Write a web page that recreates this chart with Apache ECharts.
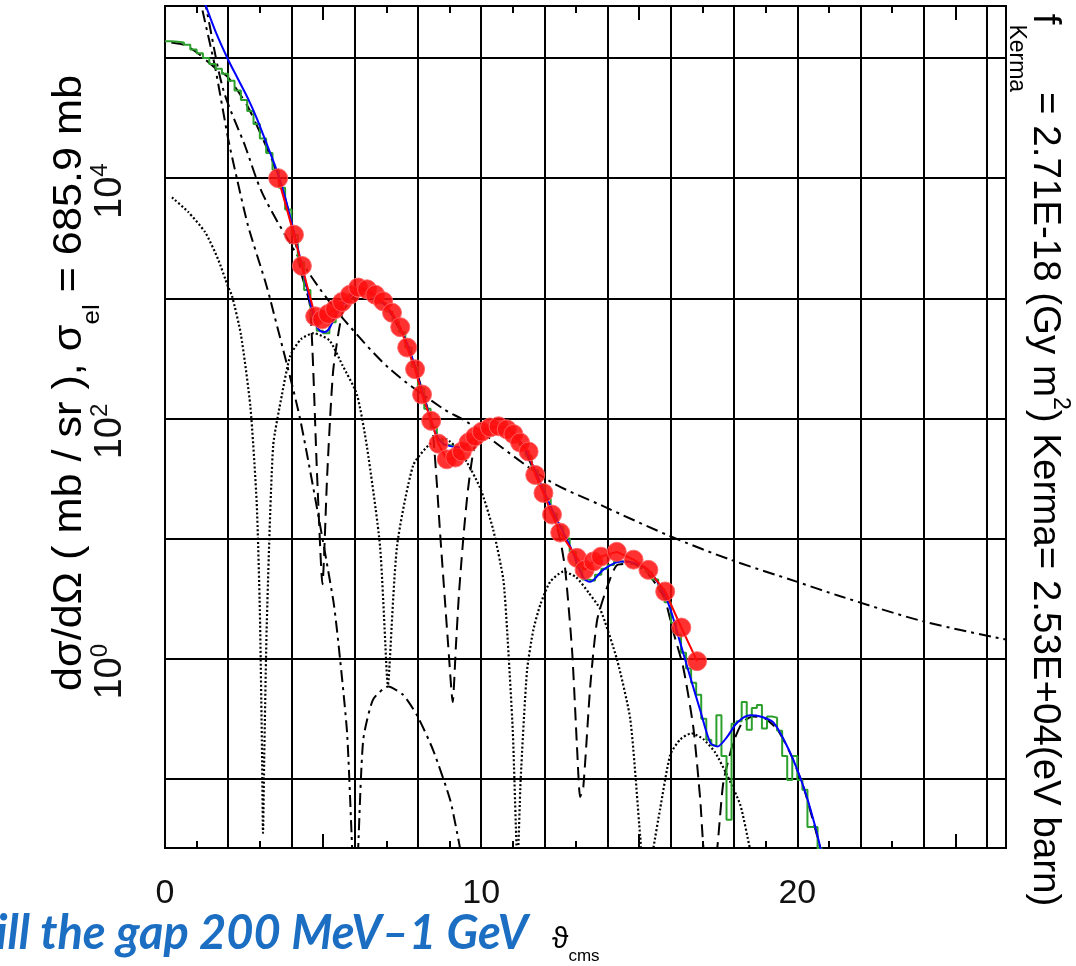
<!DOCTYPE html>
<html><head><meta charset="utf-8">
<script src="https://cdn.jsdelivr.net/npm/echarts@6/dist/echarts.min.js"></script>
<style>html,body{margin:0;padding:0;background:#fff;overflow:hidden}#c{width:1076px;height:966px}</style>
</head><body><div id="c"></div>
<script>
// ---- axes ----
const xMin = 0, xMax = 26.6;
const yMinExp = -1.575, yMaxExp = 5.433;   // log10 limits of the y axis
const xLabelValues = [0, 10, 20];
const yLabelExps = [0, 2, 4];

// ---- data (x = theta_cms in degrees, values given as log10 of dσ/dΩ) ----
const redX = [3.58,4.08,4.33,4.75,4.97,5.16,5.38,5.6,5.85,6.11,6.39,6.65,6.9,7.18,7.44,7.66,7.91,8.13,8.42,8.65,8.91,9.18,9.39,9.6,9.81,10.02,10.28,10.55,10.81,11.02,11.23,11.5,11.71,11.97,12.24,12.5,13.03,13.27,13.55,13.79,14.29,14.82,15.29,15.82,16.33,16.83];
const redLog = [4.00,3.53,3.27,2.85,2.825,2.87,2.91,2.97,3.03,3.09,3.075,3.03,2.975,2.88,2.76,2.59,2.41,2.2,1.98,1.79,1.66,1.675,1.725,1.8,1.85,1.89,1.925,1.935,1.91,1.87,1.8,1.725,1.53,1.38,1.2,1.05,0.84,0.74,0.81,0.85,0.89,0.825,0.74,0.56,0.26,-0.02];

const blueX = [1.2,1.27,1.6,1.99,2.3,2.63,2.9,3.16,3.4,3.58,3.8,4.08,4.33,4.55,4.75,4.9,5.05,5.2,5.4,5.7,6.0,6.3,6.6,6.9,7.2,7.5,7.8,8.1,8.4,8.6,8.8,9.02,9.34,9.65,10.07,10.5,10.92,11.33,11.65,11.96,12.28,12.6,12.91,13.23,13.45,13.86,14.4,14.81,15.35,15.89,16.3,16.61,16.93,17.25,17.47,17.78,18.1,18.51,18.83,19.24,19.68,20.0,20.3,20.57,20.73,20.85];
const blueLog = [5.5,5.45,5.22,4.99,4.83,4.66,4.5,4.325,4.16,4.03,3.84,3.55,3.27,3.02,2.8,2.73,2.72,2.75,2.86,2.97,3.05,3.07,3.03,2.96,2.86,2.72,2.52,2.25,2.0,1.85,1.79,1.77,1.76,1.81,1.91,1.93,1.91,1.77,1.6,1.41,1.22,1.05,0.88,0.675,0.64,0.74,0.81,0.8,0.72,0.48,0.13,-0.15,-0.43,-0.7,-0.73,-0.65,-0.53,-0.47,-0.48,-0.53,-0.73,-0.925,-1.15,-1.4,-1.575,-1.7];

// green histogram, part 1: bins of 0.2 from 0 to 16
const greenStart = 0, greenBin = 0.2;
const greenLog = [
5.14,5.135,5.13,5.11,5.07, 5.04,5.0,4.95,4.91,4.87,
4.81,4.73,4.65,4.56,4.45, 4.33,4.21,4.07,3.92,3.74,
3.53,3.3,3.07,2.85,2.73, 2.71,2.8,2.9,2.97,3.03,
3.06,3.07,3.05,3.01,2.96, 2.89,2.81,2.72,2.59,2.43,
2.25,2.08,1.93,1.82,1.78, 1.765,1.76,1.78,1.82,1.87,
1.91,1.925,1.93,1.925,1.91, 1.86,1.78,1.69,1.57,1.45,
1.33,1.21,1.1,1.0,0.89, 0.76,0.66,0.65,0.7,0.75,
0.78,0.81,0.81,0.8,0.79, 0.76,0.72,0.66,0.58,0.47];
// green histogram, part 2 (noisy tail): bins of 0.16 from 16 to 20.8
const tailStart = 16, tailBin = 0.16;
const tailLog = [
0.3,0.2,0.05,-0.08,-0.2, -0.3,-0.5,-0.675,-0.72,-0.47,
-0.81,-1.34,-0.54,-0.52,-0.36, -0.59,-0.41,-0.385,-0.58,-0.48,
-0.49,-0.6,-0.81,-1.01,-0.81, -1.01,-1.09,-1.4,-1.4,-1.58];

// dash-dot: Coulomb-like monotonic component
const d1X = [1.22,1.3,1.84,2.53,3.07,4.02,4.84,5.7,7.12,8.8,9.56,12.09,13.86,15.98,17.88,20.0,21.36,24.0,26.6];
const d1Log = [5.5,5.42,4.74,4.27,3.88,3.43,3.1,2.81,2.41,2.08,1.97,1.49,1.27,1.02,0.825,0.64,0.52,0.31,0.16];
// dash-dot: second component
const d2X = [1.05,1.15,1.58,2.0,2.28,2.63,3.16,3.32,4.27,5.32,5.54,5.76,5.92,5.99,6.04,6.11,6.27,6.58,7.06,7.53,7.97,8.48,9.02,9.24,9.42];
const d2Log = [5.6,5.44,4.93,4.325,3.99,3.6,3.15,3.0,2.0,0.49,-0.01,-0.62,-1.58,-2.0,-2.0,-1.575,-0.675,-0.34,-0.23,-0.3,-0.47,-0.76,-1.175,-1.45,-1.7];
// dotted component
const d3X = [0.22,0.73,1.27,1.68,1.99,2.12,2.4,2.7,2.9,3.0,3.07,3.1,3.14,3.22,3.42,3.7,3.96,4.3,4.7,5.2,5.6,6.07,6.39,6.8,7.02,7.05,7.08,7.34,7.85,8.39,8.86,9.4,9.97,10.38,10.7,10.82,11.0,11.15,11.25,11.45,11.65,11.87,12.18,12.6,13.0,13.4,13.77,14.3,14.72,15.03,15.15,15.35,15.44,15.66,15.98,16.3,16.65,17.03,17.4,17.8,18.2,18.5,18.6];
const d3Log = [3.84,3.72,3.55,3.325,3.1,3.02,2.7,2.1,1.3,0.4,-0.8,-1.45,-0.8,0.3,1.77,2.2,2.52,2.66,2.71,2.65,2.45,2.2,1.76,0.94,-0.15,-0.22,-0.15,0.94,1.61,1.79,1.83,1.7,1.42,1.075,0.66,0.24,-0.6,-1.7,-1.0,-0.1,0.24,0.45,0.64,0.725,0.68,0.55,0.41,-0.01,-0.51,-1.48,-1.8,-1.8,-1.59,-1.25,-0.8,-0.67,-0.62,-0.67,-0.78,-0.98,-1.22,-1.58,-1.7];
// dashed component
const d4X = [0.2,0.6,1.04,1.58,1.99,2.63,3.39,3.58,3.8,4.08,4.3,4.59,4.81,4.98,5.13,5.32,5.6,5.85,6.1,6.4,6.7,7.0,7.3,7.6,7.9,8.15,8.35,8.48,8.6,8.7,8.85,8.96,9.1,9.2,9.3,9.45,9.58,9.75,9.95,10.3,10.6,10.9,11.3,11.65,11.96,12.28,12.5,12.66,12.88,13.04,13.13,13.23,13.45,13.67,13.99,14.3,14.8,15.3,15.8,16.08,16.39,16.71,16.93,17.03,17.25,17.47,17.66,17.97,18.26,18.6,19.0,19.4,19.8,20.2,20.5,20.8];
const d4Log = [5.13,5.11,5.04,4.92,4.84,4.59,4.15,4.0,3.83,3.54,3.22,2.93,1.53,0.62,1.53,2.4,2.87,2.98,3.04,3.05,3.0,2.93,2.8,2.64,2.44,2.22,2.04,1.86,1.45,1.05,0.5,0.1,-0.36,0.1,0.55,1.05,1.4,1.72,1.87,1.92,1.93,1.9,1.77,1.58,1.39,1.2,0.99,0.74,0.05,-0.78,-1.15,-1.07,-0.23,0.325,0.6,0.78,0.79,0.7,0.5,0.22,-0.07,-0.57,-1.175,-1.57,-2.0,-1.57,-1.03,-0.7,-0.53,-0.48,-0.5,-0.6,-0.8,-1.07,-1.35,-1.65];

// ---- texts ----
const leftTitle = '{t|dσ/dΩ ( mb / sr ), σ}{sub|el}{t| = 685.9 mb}';
const rightTitle = '{t|f}{sub|Kerma}{t|= 2.71E-18 (Gy m}{sup|2}{t|) Kerma= 2.53E+04(eV barn)}';
const xTitle = '{t|ϑ}{sub|cms}';
const banner = 'ill the gap 200 MeV–1 GeV';

// ---- build ----
const FONT = '"Liberation Sans",Arimo,sans-serif';
const pts = (xs, ls) => xs.map((x, i) => [x, Math.pow(10, ls[i])]);
const histPts = (start, bin, vals, out) => {
  vals.forEach((v, i) => {
    const x0 = start + i * bin;
    out.push([x0, Math.pow(10, v)], [x0 + bin, Math.pow(10, v)]);
  });
  return out;
};
const greenPts = histPts(tailStart, tailBin, tailLog, histPts(greenStart, greenBin, greenLog, []));

const chart = echarts.init(document.getElementById('c'), null, {renderer: 'canvas'});
const gridPos = {left: 165, top: 6, width: 841, height: 842};
function xAx(extra) {
  return Object.assign({
    type: 'value', min: xMin, max: xMax, gridIndex: 0,
    axisLine: {show: false}, axisTick: {show: false}, axisLabel: {show: false},
    splitLine: {show: false}
  }, extra);
}
const blackLine = (type, w) => ({color: '#000', width: w || 2, type: type, cap: 'butt'});
const C = '#111';
const richLeft = {
  t: {fontFamily: FONT, fontSize: 40, color: C, lineHeight: 40, verticalAlign: 'middle'},
  sub: {fontFamily: FONT, fontSize: 24, color: C, lineHeight: 24, padding: [44, 0, 0, 0], verticalAlign: 'middle'}
};
const richRight = {
  t: {fontFamily: FONT, fontSize: 38.5, color: C, lineHeight: 81, verticalAlign: 'middle'},
  sub: {fontFamily: FONT, fontSize: 23, color: C, lineHeight: 22, verticalAlign: 'bottom'},
  sup: {fontFamily: FONT, fontSize: 23, color: C, lineHeight: 22, padding: [0, 0, 30, 0], verticalAlign: 'middle'}
};
const richX = {
  t: {fontFamily: FONT, fontSize: 30, color: C, lineHeight: 50, verticalAlign: 'middle'},
  sub: {fontFamily: FONT, fontSize: 17, color: C, lineHeight: 18, verticalAlign: 'bottom'}
};

const option = {
  animation: false,
  backgroundColor: '#fff',
  grid: Object.assign({show: true, borderColor: '#000', borderWidth: 2, backgroundColor: '#fff', containLabel: false}, gridPos),
  xAxis: [
    xAx({interval: 2, position: 'bottom',
      splitLine: {show: true, lineStyle: {color: '#000', width: 2}},
      axisLabel: {show: true, margin: 29, fontFamily: FONT, fontSize: 34, color: C,
        formatter: v => (xLabelValues.indexOf(v) >= 0 ? String(v) : '')}}),
    xAx({interval: 1, position: 'bottom', axisTick: {show: true, inside: true, length: 7, lineStyle: {color: '#000', width: 2}}}),
    xAx({interval: 1, position: 'top', axisTick: {show: true, inside: true, length: 7, lineStyle: {color: '#000', width: 2}}}),
    xAx({interval: 5, position: 'bottom', axisTick: {show: true, inside: true, length: 14, lineStyle: {color: '#000', width: 2}}}),
    xAx({interval: 5, position: 'top', axisTick: {show: true, inside: true, length: 14, lineStyle: {color: '#000', width: 2}}})
  ],
  yAxis: [{
    type: 'log', logBase: 10, min: Math.pow(10, yMinExp), max: Math.pow(10, yMaxExp), splitNumber: 7,
    axisLine: {show: false}, axisTick: {show: false},
    splitLine: {show: true, lineStyle: {color: '#000', width: 2}},
    axisLabel: {
      show: true, rotate: 90, margin: 34, padding: [0, 26, 0, 0],
      formatter: v => {
        const e = Math.log10(v), r = Math.round(e);
        if (Math.abs(e - r) > 0.01 || yLabelExps.indexOf(r) < 0) return '';
        return '{b|10}{s|' + r + '}';
      },
      rich: {
        b: {fontFamily: FONT, fontSize: 38, color: C, lineHeight: 40, verticalAlign: 'middle'},
        s: {fontFamily: FONT, fontSize: 24, color: C, lineHeight: 24, padding: [0, 0, 22, 0], verticalAlign: 'middle'}
      }
    }
  }],
  graphic: [
    {type: 'text', x: 70, y: 383, rotation: Math.PI / 2, scaleX: 1.08, z: 10,
      style: {text: leftTitle, rich: richLeft, align: 'center', verticalAlign: 'middle'}},
    {type: 'text', x: 1045, y: 460, rotation: -Math.PI / 2, z: 10,
      style: {text: rightTitle, rich: richRight, align: 'center', verticalAlign: 'middle'}},
    {type: 'text', x: 552, y: 940, z: 10,
      style: {text: xTitle, rich: richX, align: 'left', verticalAlign: 'middle'}},
    {type: 'text', x: -4, y: 934, z: 10,
      style: {text: banner, font: 'italic bold 47px Lato, "Open Sans", sans-serif', fill: '#1b6ec2', align: 'left', verticalAlign: 'middle'}}
  ],
  series: [
    {name: 'dotted', type: 'line', data: pts(d3X, d3Log), showSymbol: false, smooth: 0.2, z: 2, lineStyle: blackLine([2, 2.2], 2.2)},
    {name: 'dashdot2', type: 'line', data: pts(d2X, d2Log), showSymbol: false, smooth: 0.2, z: 2, lineStyle: blackLine([12, 5, 3, 5])},
    {name: 'dashdot1', type: 'line', data: pts(d1X, d1Log), showSymbol: false, smooth: 0.3, z: 2, lineStyle: blackLine([12, 5, 3, 5])},
    {name: 'dashed', type: 'line', data: pts(d4X, d4Log), showSymbol: false, smooth: 0.2, z: 2, lineStyle: blackLine([13, 7])},
    {name: 'hist', type: 'line', data: greenPts, showSymbol: false, z: 3, lineStyle: {color: '#2ca02c', width: 2}},
    {name: 'calc', type: 'line', data: pts(blueX, blueLog), showSymbol: false, smooth: 0.3, z: 4, lineStyle: {color: '#0000ff', width: 2}},
    {name: 'data', type: 'line', data: pts(redX, redLog), symbol: 'circle', symbolSize: 19, showSymbol: true, z: 5,
      lineStyle: {color: '#ff0000', width: 2},
      itemStyle: {color: 'rgba(255,15,15,0.86)', borderColor: 'rgba(255,100,100,0.9)', borderWidth: 1}}
  ]
};
chart.setOption(option);
</script></body></html>
